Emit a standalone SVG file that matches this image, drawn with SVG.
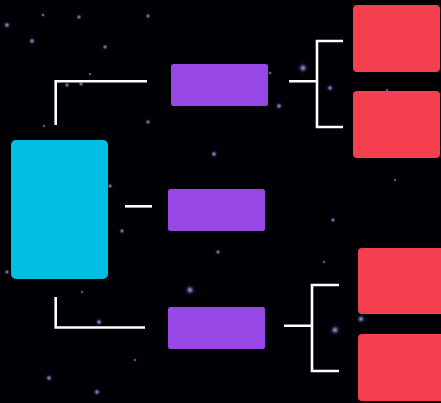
<svg xmlns="http://www.w3.org/2000/svg" width="441" height="403" viewBox="0 0 441 403">
<defs>
<radialGradient id="glow">
<stop offset="0" stop-color="#b8b8c8" stop-opacity="0.9"/>
<stop offset="0.3" stop-color="#8a8aa8" stop-opacity="0.6"/>
<stop offset="0.6" stop-color="#1a1a6a" stop-opacity="0.35"/>
<stop offset="1" stop-color="#0a0a40" stop-opacity="0"/>
</radialGradient>
<style>
.star{fill:url(#glow)}
.conn{fill:none;stroke:#ffffff;stroke-width:2.6;stroke-linecap:butt}
.root{fill:#00bee4}
.mid{fill:#9747e6}
.leaf{fill:#f43f4f}
</style>
</defs>
<rect width="441" height="403" fill="#010004"/>
<g id="stars">
<circle class="star" cx="7" cy="25" r="5"/>
<circle class="star" cx="32" cy="41" r="5"/>
<circle class="star" cx="43" cy="15" r="3"/>
<circle class="star" cx="79" cy="17" r="4"/>
<circle class="star" cx="105" cy="47" r="4"/>
<circle class="star" cx="148" cy="16" r="4"/>
<circle class="star" cx="67" cy="85" r="4"/>
<circle class="star" cx="81" cy="84" r="4"/>
<circle class="star" cx="90" cy="74" r="2.5"/>
<circle class="star" cx="148" cy="122" r="4"/>
<circle class="star" cx="44" cy="126" r="2.5"/>
<circle class="star" cx="214" cy="154" r="5"/>
<circle class="star" cx="110" cy="186" r="4"/>
<circle class="star" cx="303" cy="68" r="7"/>
<circle class="star" cx="270" cy="73" r="3"/>
<circle class="star" cx="279" cy="106" r="5"/>
<circle class="star" cx="330" cy="88" r="5"/>
<circle class="star" cx="387" cy="90" r="2.5"/>
<circle class="star" cx="395" cy="180" r="2.5"/>
<circle class="star" cx="122" cy="231" r="4"/>
<circle class="star" cx="7" cy="272" r="4"/>
<circle class="star" cx="190" cy="290" r="7"/>
<circle class="star" cx="218" cy="252" r="4"/>
<circle class="star" cx="82" cy="292" r="2.5"/>
<circle class="star" cx="99" cy="322" r="5"/>
<circle class="star" cx="135" cy="360" r="2.5"/>
<circle class="star" cx="49" cy="378" r="5"/>
<circle class="star" cx="97" cy="392" r="5"/>
<circle class="star" cx="333" cy="220" r="4"/>
<circle class="star" cx="335" cy="330" r="7"/>
<circle class="star" cx="361" cy="319" r="6"/>
<circle class="star" cx="324" cy="262" r="2.5"/>
</g>
<g id="connectors">
<path class="conn" d="M55.7,125 V81.3 H147"/>
<path class="conn" d="M125,206.3 H152"/>
<path class="conn" d="M55.7,297 V327.5 H145"/>
<path class="conn" d="M289,81.3 H317 M343,41 H317 V127 H343"/>
<path class="conn" d="M284,325.7 H312 M339,285 H312 V371 H339"/>
</g>
<g id="root"><rect class="root" x="11" y="140" width="97" height="139" rx="5"/></g>
<g id="mid1"><rect class="mid" x="171" y="64" width="97" height="42" rx="2.5"/></g>
<g id="mid2"><rect class="mid" x="168" y="189" width="97" height="42" rx="2.5"/></g>
<g id="mid3"><rect class="mid" x="168" y="307" width="97" height="42" rx="2.5"/></g>
<g id="leaf1"><rect class="leaf" x="353" y="5" width="87" height="67" rx="4"/></g>
<g id="leaf2"><rect class="leaf" x="353" y="91" width="87" height="67" rx="4"/></g>
<g id="leaf3"><rect class="leaf" x="358" y="248" width="87" height="66" rx="4"/></g>
<g id="leaf4"><rect class="leaf" x="358" y="334" width="87" height="67" rx="4"/></g>
</svg>
